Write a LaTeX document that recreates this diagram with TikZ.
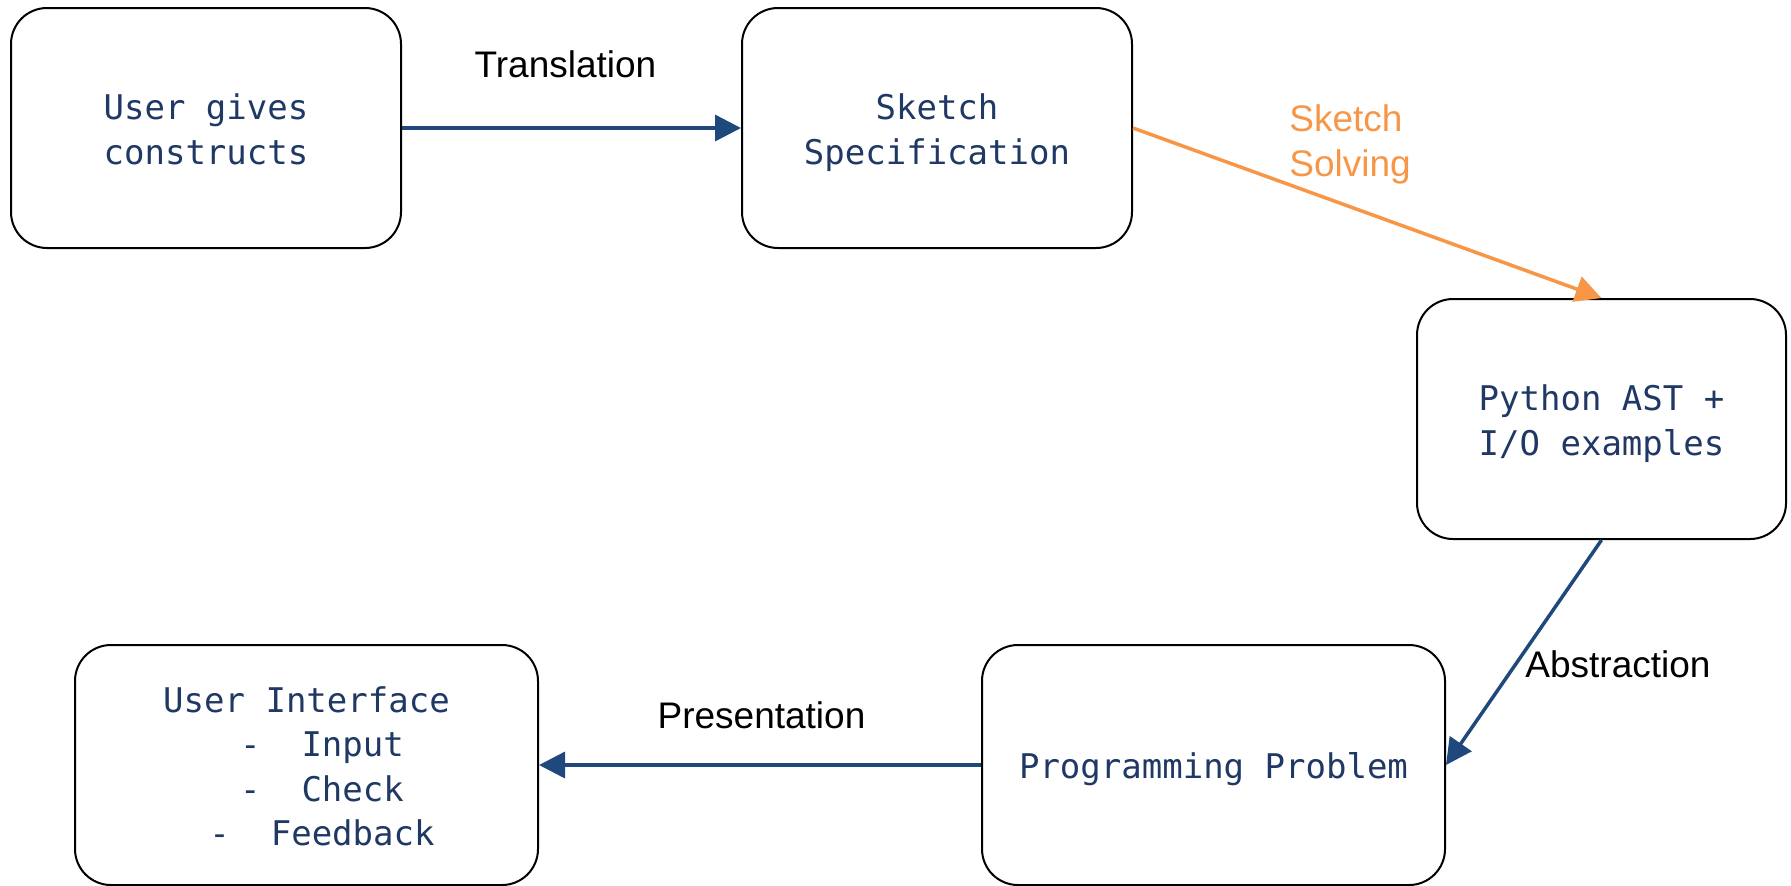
\documentclass[tikz,border=0pt]{standalone}
\usepackage{fontspec}
\usetikzlibrary{arrows.meta}
\newfontfamily\boxfont{DejaVu Sans Mono}
\newfontfamily\labelfont{Liberation Sans}
\definecolor{boxtext}{RGB}{31,56,100}
\definecolor{flowblue}{RGB}{31,73,125}
\definecolor{solveorange}{RGB}{247,150,70}
% centred lines of a stage, spaced by their struts, with a little room on top
\newcommand\stagelines[1]{\raisebox{0pt}[\dimexpr\height+5pt\relax][\depth]{\begin{tabular}{@{}c@{}}#1\end{tabular}}}

\begin{document}
\begin{tikzpicture}[x=0.5pt,y=-0.5pt,
  stage/.style={draw=black, line width=1pt, rounded corners=18pt, inner sep=0pt,
    text=boxtext, minimum height=120pt,
    font=\boxfont\fontsize{17}{22.25}\selectfont},
  flow/.style={draw=flowblue, line width=1.75pt,
    -{Triangle[length=13pt,width=13pt]}},
  solveflow/.style={flow, draw=solveorange},
  steplabel/.style={font=\labelfont\fontsize{18.5}{22.5}\selectfont, inner sep=0pt}
]
\useasboundingbox (0,0) rectangle (1791,885);

% pipeline stages
\node[stage, minimum width=195pt]   (give)    at (206,128)    {\stagelines{User gives\\constructs}};
\node[stage, minimum width=195pt]   (spec)    at (937,128)    {\stagelines{Sketch\\Specification}};
\node[stage, minimum width=184.5pt] (ast)     at (1601.5,419) {\stagelines{Python AST +\\I/O examples}};
\node[stage, minimum width=231.5pt] (problem) at (1213.5,765) {\stagelines{Programming Problem}};
\node[stage, minimum width=231.5pt] (ui)      at (306.5,765)
  {\stagelines{User Interface\\\hspace*{15.5pt}-\ \ Input\\\hspace*{15.5pt}-\ \ Check\\\hspace*{15.5pt}-\ \ Feedback}};

% transitions between stages
\draw[flow]      (give.east)    -- (spec.west);
\draw[solveflow] (spec.east)    -- (ast.north);
\draw[flow]      (ast.south)    -- (problem.east);
\draw[flow]      (problem.west) -- (ui.east);

% transition names
\node[steplabel, anchor=base] (ltrans) at (565.5,77) {Translation};
\node[steplabel, anchor=north west, align=left, text=solveorange] (lsolve) at (1289,104) {Sketch\\Solving};
\node[steplabel, anchor=base west] (labs) at (1525,677) {Abstraction};
\node[steplabel, anchor=base] (lpres) at (761.5,728) {Presentation};
\end{tikzpicture}
\end{document}
